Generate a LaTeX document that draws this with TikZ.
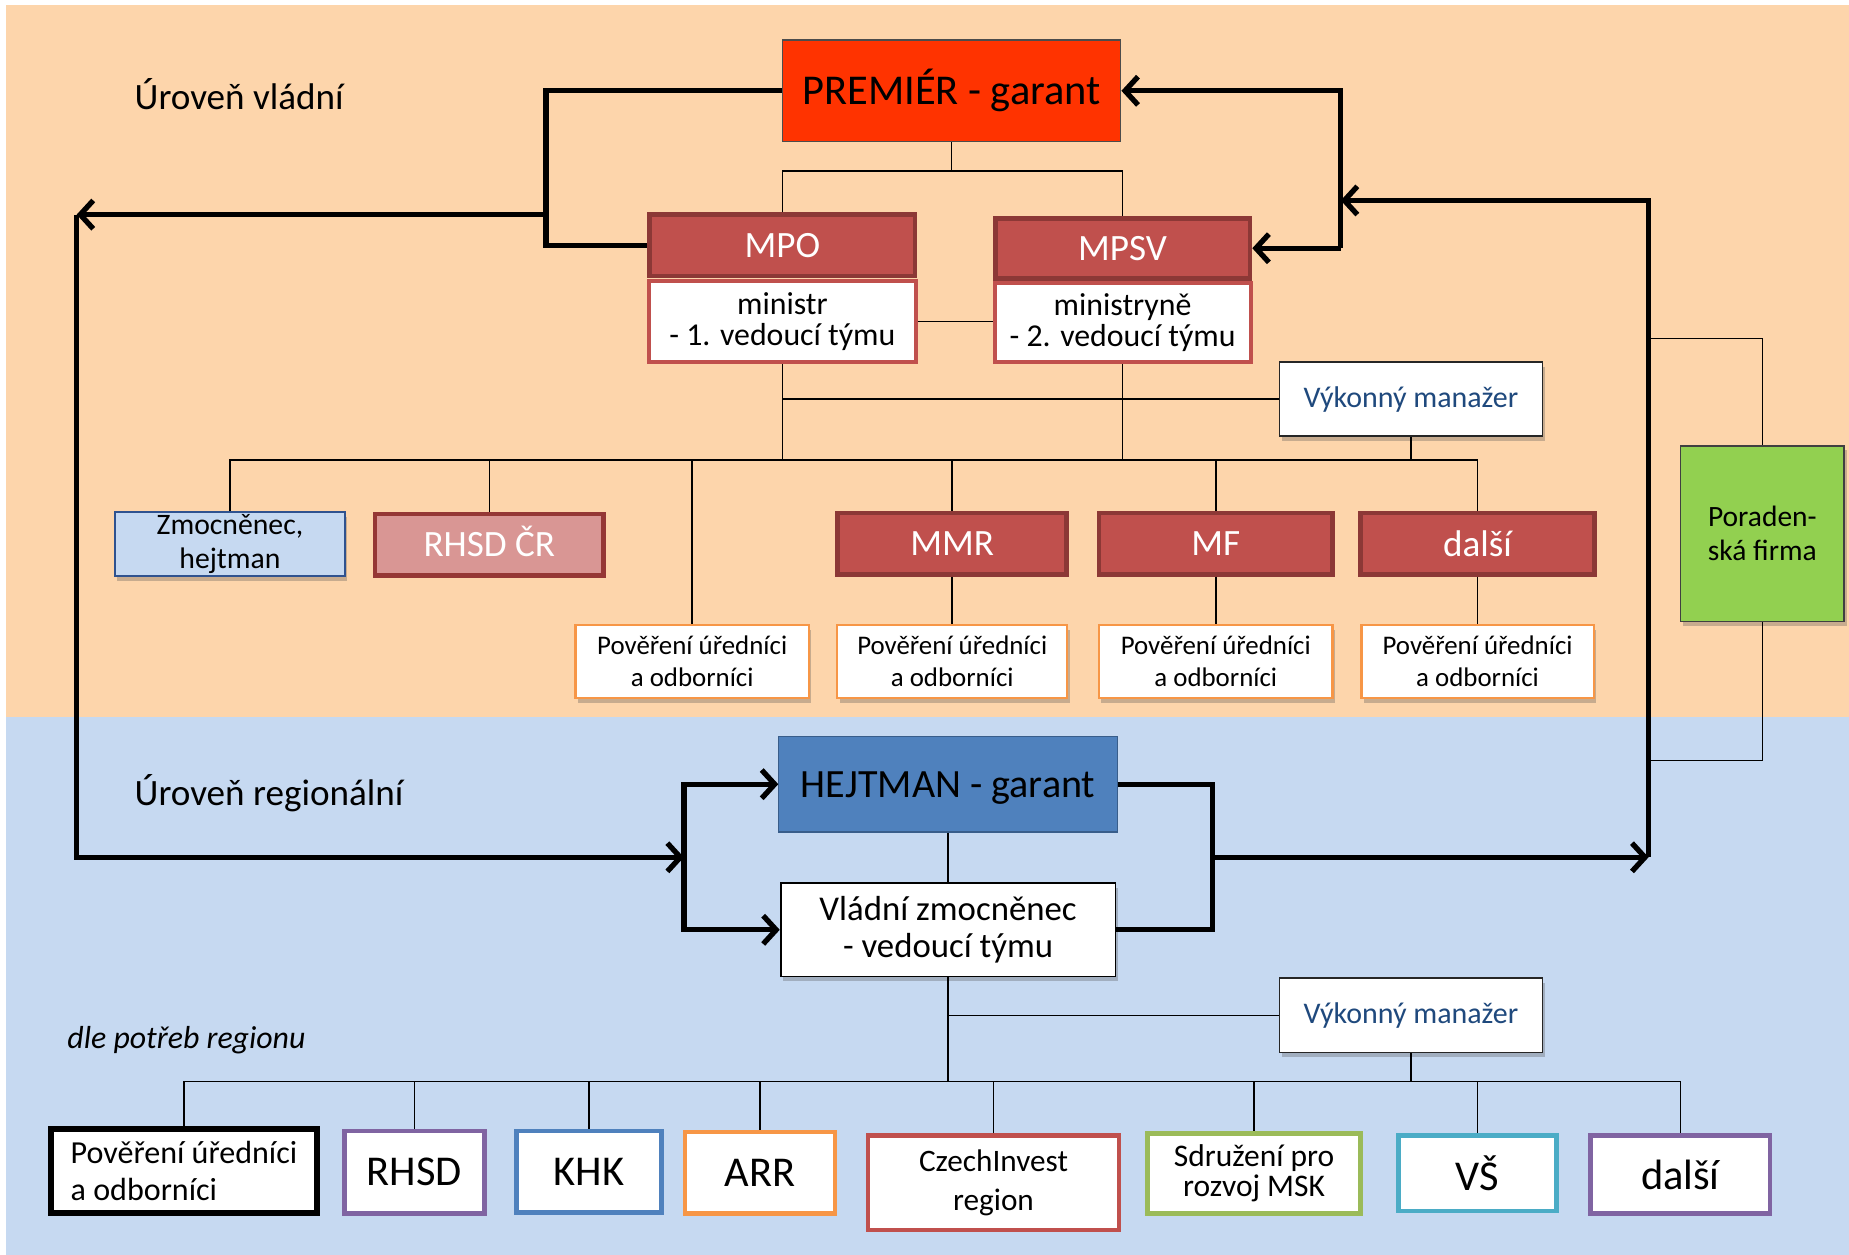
\documentclass[tikz,border=0pt]{standalone}
\usepackage{fontspec}
\setmainfont{Carlito}
\usetikzlibrary{arrows.meta,shadows}
\definecolor{bgor}{HTML}{FDD5AB}
\definecolor{bgbl}{HTML}{C6D9F1}
\definecolor{premred}{HTML}{FF3300}
\definecolor{redfill}{HTML}{C0504D}
\definecolor{redline}{HTML}{8C3836}
\definecolor{rhsdfill}{HTML}{D99694}
\definecolor{rhsdline}{HTML}{953735}
\definecolor{orline}{HTML}{F79646}
\definecolor{purline}{HTML}{8064A2}
\definecolor{blline}{HTML}{4F81BD}
\definecolor{grline}{HTML}{9BBB59}
\definecolor{tealline}{HTML}{4BACC6}
\definecolor{hejfill}{HTML}{4F81BD}
\definecolor{hejline}{HTML}{385D8A}
\definecolor{zmline}{HTML}{2F528F}
\definecolor{porfill}{HTML}{92D050}
\definecolor{vmtext}{HTML}{1F497D}
\begin{document}
\begin{tikzpicture}[x=1pt,y=-1pt,
  thinln/.style={line width=1.3pt},
  thk/.style={line width=4.5pt},
  thkarr/.style={line width=4.5pt,-{Straight Barb[length=11pt,width=24pt]}},
  box/.style={rectangle, inner sep=0pt, align=center},
  shad/.style={drop shadow={shadow xshift=2pt,shadow yshift=-4pt,opacity=0.3,fill=black!70}},
  prembox/.style={box, fill=premred, draw=black!70, line width=1pt, font=\fontsize{36}{40}\selectfont},
  redhead/.style={box, fill=redfill, draw=redline, line width=4pt, text=white, font=\fontsize{31.5}{34}\selectfont},
  redbody/.style={box, fill=white, draw=redfill, line width=3.5pt, font=\fontsize{27}{26}\selectfont},
  rhsdbox/.style={box, fill=rhsdfill, draw=rhsdline, line width=4pt, text=white, font=\fontsize{31.5}{34}\selectfont},
  zmbox/.style={box, shad, fill=bgbl, draw=zmline, line width=1.5pt, font=\fontsize{25.2}{29}\selectfont},
  povbox/.style={box, shad, fill=white, draw=orline, line width=2pt, font=\fontsize{22.8}{27}\selectfont},
  vmbox/.style={box, shad, fill=white, draw=black!85, line width=1.5pt, text=vmtext, font=\fontsize{25.4}{29}\selectfont},
  porbox/.style={box, shad, fill=porfill, draw=black!75, line width=1.5pt, font=\fontsize{25}{29}\selectfont},
  hejbox/.style={box, fill=hejfill, draw=hejline, line width=1pt, font=\fontsize{34}{38}\selectfont},
  vladbox/.style={box, shad, fill=white, draw=black, line width=1.5pt, font=\fontsize{29.5}{31}\selectfont},
  botbox/.style={box, fill=white, line width=4pt},
  bigf/.style={font=\fontsize{36}{40}\selectfont},
  lvl/.style={anchor=west, inner sep=0pt, font=\fontsize{31.5}{36}\selectfont}
]
% background
\fill[white] (0,0) rectangle (1568,1064);
\fill[bgor] (5,4) rectangle (1568,608);
\fill[bgbl] (5,608) rectangle (1568,1064);
\useasboundingbox (0,0) rectangle (1568,1064);

% level labels
\node[lvl] (lv1) at (114,80) {Úroveň vládní};
\node[lvl] (lv2) at (114,673) {Úroveň regionální};
\node[lvl, font=\fontsize{27}{30}\selectfont\itshape] (lv3) at (57,882) {dle potřeb regionu};

% government level
\node[prembox, minimum width=287pt, minimum height=86pt] (prem) at (807,77) {PREMIÉR - garant};

\node[redbody, minimum width=226pt, minimum height=69pt] (mpob) at (663.5,272.5) {ministr\\- 1. vedoucí týmu};
\node[redhead, minimum width=225pt, minimum height=52pt] (mpoh) at (663.5,208) {MPO};
\node[redbody, minimum width=217pt, minimum height=67pt] (mpsvb) at (952,273.5) {ministryně\\- 2. vedoucí týmu};
\node[redhead, minimum width=216pt, minimum height=51pt] (mpsvh) at (952,210.5) {MPSV};

\node[vmbox, minimum width=223pt, minimum height=63pt] (vm1) at (1196.5,338.5) {Výkonný manažer};

\node[zmbox, minimum width=195pt, minimum height=54pt, text depth=4pt] (zmoc) at (195,461.5) {Zmocněnec,\\hejtman};
\node[rhsdbox, minimum width=194pt, minimum height=52pt, text height=20pt, text depth=0pt] (rhsdcr) at (415,462) {RHSD ČR};
\node[redhead, minimum width=194pt, minimum height=52pt] (mmr) at (807.5,461) {MMR};
\node[redhead, minimum width=198pt, minimum height=52pt] (mf) at (1031,461) {MF};
\node[redhead, minimum width=198pt, minimum height=52pt] (dalsi1) at (1253,461) {další};

\node[povbox, minimum width=198pt, minimum height=62pt] (pov1) at (587,561) {Pověření úředníci\\a odborníci};
\node[povbox, minimum width=195pt, minimum height=62pt] (pov2) at (807.5,561) {Pověření úředníci\\a odborníci};
\node[povbox, minimum width=198pt, minimum height=62pt] (pov3) at (1031,561) {Pověření úředníci\\a odborníci};
\node[povbox, minimum width=197pt, minimum height=62pt] (pov4) at (1253,561) {Pověření úředníci\\a odborníci};

\node[porbox, minimum width=139pt, minimum height=149pt] (por) at (1494.5,452.5) {Poraden-\\ská firma};

% regional level
\node[hejbox, minimum width=287pt, minimum height=81pt, text depth=0pt] (hejt) at (804,665) {HEJTMAN - garant};
\node[vladbox, minimum width=284pt, minimum height=79pt] (vlad) at (804,788.5) {Vládní zmocněnec\\- vedoucí týmu};
\node[vmbox, minimum width=223pt, minimum height=63pt] (vm2) at (1196.5,861) {Výkonný manažer};

\node[botbox, draw=black, line width=5pt, minimum width=225pt, minimum height=71pt, align=left, font=\fontsize{27.2}{32}\selectfont] (b1) at (156,993) {Pověření úředníci\\a odborníci};
\node[botbox, draw=purline, minimum width=119pt, minimum height=70pt, bigf] (b2) at (351.5,994) {RHSD};
\node[botbox, draw=blline, minimum width=123pt, minimum height=69pt, bigf] (b3) at (499.5,993.5) {KHK};
\node[botbox, draw=orline, minimum width=127pt, minimum height=69pt, bigf] (b4) at (644.5,994.5) {ARR};
\node[botbox, draw=redfill, minimum width=213pt, minimum height=80pt, font=\fontsize{26.5}{33}\selectfont] (b5) at (842.5,1003) {CzechInvest\\region};
\node[botbox, draw=grline, minimum width=181pt, minimum height=68pt, font=\fontsize{26.7}{26}\selectfont] (b6) at (1063.5,995) {Sdružení pro\\rozvoj MSK};
\node[botbox, draw=tealline, minimum width=134pt, minimum height=64pt, bigf] (b7) at (1253,995) {VŠ};
\node[botbox, draw=purline, minimum width=152pt, minimum height=66pt, bigf] (b8) at (1425,996) {další};

% junction coordinates
\coordinate (j1) at (807,145);
\coordinate (busR) at (1253,390);
\coordinate (lbB) at (463,208);
\coordinate (lbM) at (463,182);
\coordinate (lA) at (65,182);
\coordinate (hlM) at (580,727);
\coordinate (hrM) at (1028,727);
\coordinate (rA) at (1398,727);
\coordinate (rbM) at (1137,170);
\coordinate (rbB) at (1137,210.5);
\coordinate (rv1) at (1398,287);
\coordinate (rv2) at (1398,645);
\coordinate (bus2R) at (1425,917);

% thin connectors (government)
\begin{scope}[thinln]
\draw (prem.south) -- (j1);
\draw (mpoh.north) |- (j1) -| (mpsvh.north);
\draw (mpob.east) -- (mpob.east -| mpsvb.west);
\draw (mpob.south) -- (mpob.south |- busR);
\draw (mpsvb.south) -- (mpsvb.south |- busR);
\draw (mpob.south |- vm1.west) -- (vm1.west);
\draw (vm1.south) -- (vm1.south |- busR);
\draw (zmoc.north) |- (busR) -- (dalsi1.north);
\draw (rhsdcr.north) -- (rhsdcr.north |- busR);
\draw (pov1.north) -- (pov1.north |- busR);
\draw (mmr.north) -- (mmr.north |- busR);
\draw (mf.north) -- (mf.north |- busR);
\draw (mmr.south) -- (pov2.north);
\draw (mf.south) -- (pov3.north);
\draw (dalsi1.south) -- (pov4.north);
\draw (por.north) |- (rv1);
\draw (por.south) |- (rv2);
% regional
\draw (hejt.south) -- (vlad.north);
\draw (vlad.south) -- (vlad.south |- bus2R);
\draw (vlad.south |- vm2.west) -- (vm2.west);
\draw (vm2.south) -- (vm2.south |- bus2R);
\draw (b1.north) |- (bus2R) -- (b8.north);
\draw (b2.north) -- (b2.north |- bus2R);
\draw (b3.north) -- (b3.north |- bus2R);
\draw (b4.north) -- (b4.north |- bus2R);
\draw (b5.north) -- (b5.north |- bus2R);
\draw (b6.north) -- (b6.north |- bus2R);
\draw (b7.north) -- (b7.north |- bus2R);
\end{scope}

% thick connectors
\draw[thk] (prem.west) -| (lbB) -- (mpoh.west);
\draw[thkarr] (lbM) -- (lA);
\draw[thkarr] (lA) |- (hlM);
\draw[thkarr] (hlM) |- (hejt.west);
\draw[thkarr] (hlM) |- (vlad.west);
\draw[thk] (hejt.east) -| (hrM) |- (vlad.east);
\draw[thkarr] (hrM) -- (rA);
\draw[thkarr] (rA) |- (rbM);
\draw[thkarr] (rbB) |- (prem.east);
\draw[thkarr] (rbB) -- (mpsvh.east);
\end{tikzpicture}
\end{document}
